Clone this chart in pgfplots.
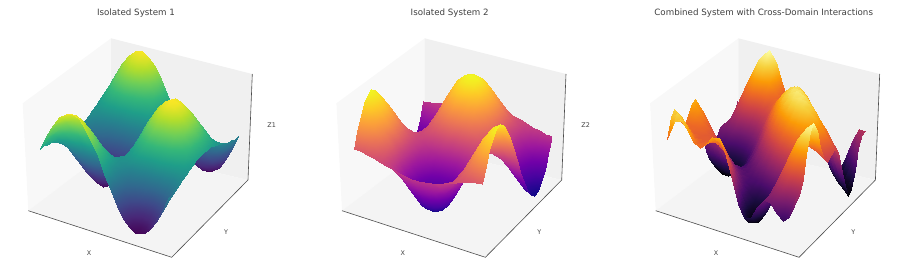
\documentclass[border=0pt]{standalone}
\usepackage{pgfplots}
\pgfplotsset{compat=1.18}
\usepackage{fontspec}
\setmainfont{DejaVu Sans}
\definecolor{paneL}{HTML}{F8F8F8}
\definecolor{paneB}{HTML}{F0F0F0}
\definecolor{paneF}{HTML}{F4F4F4}
\pgfplotsset{
 colormap={vir}{rgb255=(68,1,84) rgb255=(72,40,120) rgb255=(62,73,137) rgb255=(49,104,142) rgb255=(38,130,142) rgb255=(31,158,137) rgb255=(53,183,121) rgb255=(110,206,88) rgb255=(181,222,43) rgb255=(253,231,37)},
 colormap={pla}{rgb255=(13,8,135) rgb255=(70,3,159) rgb255=(114,1,168) rgb255=(156,23,158) rgb255=(189,55,134) rgb255=(216,87,107) rgb255=(237,121,83) rgb255=(251,159,58) rgb255=(253,202,38) rgb255=(240,249,33)},
 colormap={inf}{rgb255=(0,0,4) rgb255=(27,12,65) rgb255=(74,12,107) rgb255=(120,28,109) rgb255=(165,44,96) rgb255=(207,68,70) rgb255=(237,105,37) rgb255=(251,155,6) rgb255=(247,209,61) rgb255=(252,255,164)},
 panel/.style={hide axis,clip=false,anchor=origin,xmin=-33,xmax=33,ymin=-33,ymax=33,
   x={(2.14pt,-0.58pt)},y={(1.16pt,1.04pt)}}
}
\newcommand{\panebox}[1]{%
 \begin{scope}[shift={(#1,280)},yscale=-1]
  \fill[paneL] (28.3,210.7)--(22.7,103.3)--(111,38.3)--(111,148)--cycle;
  \fill[paneB] (111,148)--(111,38.3)--(252.3,74)--(248,180)--cycle;
  \fill[paneF] (28.3,210.7)--(111,148)--(248,180)--(171.7,257.3)--cycle;
  \draw[black!70,line width=0.6pt] (28.3,210.7)--(171.7,257.3)--(248,180)--(252.3,74);
 \end{scope}}
\begin{document}
\begin{tikzpicture}[x=1pt,y=1pt]
\useasboundingbox (0,0) rectangle (897,280);
\panebox{0}\panebox{313.7}\panebox{627.4}
\begin{axis}[panel,at={(139pt,137.5pt)},z={(0pt,0.518pt)},zmin=-110,zmax=110,colormap name=vir]
\addplot3[surf,shader=interp,z buffer=none,mesh/ordering=x varies,mesh/rows=21] table {
-30 30 14
-27 30 43
-24 30 67
-21 30 85
-18 30 96
-15 30 99
-12 30 92
-9 30 77
-6 30 55
-3 30 30
0 30 0
3 30 -30
6 30 -55
9 30 -77
12 30 -92
15 30 -99
18 30 -96
21 30 -85
24 30 -67
27 30 -43
30 30 -14
-30 27 13
-27 27 39
-24 27 61
-21 27 77
-18 27 87
-15 27 90
-12 27 84
-9 27 70
-6 27 50
-3 27 27
0 27 0
3 27 -27
6 27 -50
9 27 -70
12 27 -84
15 27 -90
18 27 -87
21 27 -77
24 27 -61
27 27 -39
30 27 -13
-30 24 10
-27 24 32
-24 24 50
-21 24 64
-18 24 72
-15 24 74
-12 24 69
-9 24 58
-6 24 41
-3 24 22
0 24 0
3 24 -22
6 24 -41
9 24 -58
12 24 -69
15 24 -74
18 24 -72
21 24 -64
24 24 -50
27 24 -32
30 24 -10
-30 21 7
-27 21 22
-24 21 34
-21 21 43
-18 21 49
-15 21 50
-12 21 47
-9 21 39
-6 21 28
-3 21 15
0 21 0
3 21 -15
6 21 -28
9 21 -39
12 21 -47
15 21 -50
18 21 -49
21 21 -43
24 21 -34
27 21 -22
30 21 -7
-30 18 3
-27 18 10
-24 18 16
-21 18 20
-18 18 22
-15 18 23
-12 18 21
-9 18 18
-6 18 13
-3 18 7
0 18 0
3 18 -7
6 18 -13
9 18 -18
12 18 -21
15 18 -23
18 18 -22
21 18 -20
24 18 -16
27 18 -10
30 18 -3
-30 15 -1
-27 15 -3
-24 15 -5
-21 15 -6
-18 15 -7
-15 15 -7
-12 15 -7
-9 15 -5
-6 15 -4
-3 15 -2
0 15 0
3 15 2
6 15 4
9 15 5
12 15 7
15 15 7
18 15 7
21 15 6
24 15 5
27 15 3
30 15 1
-30 12 -5
-27 12 -15
-24 12 -24
-21 12 -31
-18 12 -35
-15 12 -36
-12 12 -33
-9 12 -28
-6 12 -20
-3 12 -11
0 12 0
3 12 11
6 12 20
9 12 28
12 12 33
15 12 36
18 12 35
21 12 31
24 12 24
27 12 15
30 12 5
-30 9 -9
-27 9 -27
-24 9 -42
-21 9 -53
-18 9 -60
-15 9 -62
-12 9 -58
-9 9 -48
-6 9 -35
-3 9 -19
0 9 0
3 9 19
6 9 35
9 9 48
12 9 58
15 9 62
18 9 60
21 9 53
24 9 42
27 9 27
30 9 9
-30 6 -12
-27 6 -36
-24 6 -56
-21 6 -71
-18 6 -81
-15 6 -83
-12 6 -77
-9 6 -65
-6 6 -46
-3 6 -25
0 6 0
3 6 25
6 6 46
9 6 65
12 6 77
15 6 83
18 6 81
21 6 71
24 6 56
27 6 36
30 6 12
-30 3 -13
-27 3 -41
-24 3 -65
-21 3 -83
-18 3 -93
-15 3 -96
-12 3 -89
-9 3 -75
-6 3 -54
-3 3 -29
0 3 0
3 3 29
6 3 54
9 3 75
12 3 89
15 3 96
18 3 93
21 3 83
24 3 65
27 3 41
30 3 13
-30 0 -14
-27 0 -43
-24 0 -68
-21 0 -86
-18 0 -97
-15 0 -100
-12 0 -93
-9 0 -78
-6 0 -56
-3 0 -30
0 0 0
3 0 30
6 0 56
9 0 78
12 0 93
15 0 100
18 0 97
21 0 86
24 0 68
27 0 43
30 0 14
-30 -3 -13
-27 -3 -41
-24 -3 -65
-21 -3 -83
-18 -3 -93
-15 -3 -96
-12 -3 -89
-9 -3 -75
-6 -3 -54
-3 -3 -29
0 -3 0
3 -3 29
6 -3 54
9 -3 75
12 -3 89
15 -3 96
18 -3 93
21 -3 83
24 -3 65
27 -3 41
30 -3 13
-30 -6 -12
-27 -6 -36
-24 -6 -56
-21 -6 -71
-18 -6 -81
-15 -6 -83
-12 -6 -77
-9 -6 -65
-6 -6 -46
-3 -6 -25
0 -6 0
3 -6 25
6 -6 46
9 -6 65
12 -6 77
15 -6 83
18 -6 81
21 -6 71
24 -6 56
27 -6 36
30 -6 12
-30 -9 -9
-27 -9 -27
-24 -9 -42
-21 -9 -53
-18 -9 -60
-15 -9 -62
-12 -9 -58
-9 -9 -48
-6 -9 -35
-3 -9 -19
0 -9 0
3 -9 19
6 -9 35
9 -9 48
12 -9 58
15 -9 62
18 -9 60
21 -9 53
24 -9 42
27 -9 27
30 -9 9
-30 -12 -5
-27 -12 -15
-24 -12 -24
-21 -12 -31
-18 -12 -35
-15 -12 -36
-12 -12 -33
-9 -12 -28
-6 -12 -20
-3 -12 -11
0 -12 0
3 -12 11
6 -12 20
9 -12 28
12 -12 33
15 -12 36
18 -12 35
21 -12 31
24 -12 24
27 -12 15
30 -12 5
-30 -15 -1
-27 -15 -3
-24 -15 -5
-21 -15 -6
-18 -15 -7
-15 -15 -7
-12 -15 -7
-9 -15 -5
-6 -15 -4
-3 -15 -2
0 -15 0
3 -15 2
6 -15 4
9 -15 5
12 -15 7
15 -15 7
18 -15 7
21 -15 6
24 -15 5
27 -15 3
30 -15 1
-30 -18 3
-27 -18 10
-24 -18 16
-21 -18 20
-18 -18 22
-15 -18 23
-12 -18 21
-9 -18 18
-6 -18 13
-3 -18 7
0 -18 0
3 -18 -7
6 -18 -13
9 -18 -18
12 -18 -21
15 -18 -23
18 -18 -22
21 -18 -20
24 -18 -16
27 -18 -10
30 -18 -3
-30 -21 7
-27 -21 22
-24 -21 34
-21 -21 43
-18 -21 49
-15 -21 50
-12 -21 47
-9 -21 39
-6 -21 28
-3 -21 15
0 -21 0
3 -21 -15
6 -21 -28
9 -21 -39
12 -21 -47
15 -21 -50
18 -21 -49
21 -21 -43
24 -21 -34
27 -21 -22
30 -21 -7
-30 -24 10
-27 -24 32
-24 -24 50
-21 -24 64
-18 -24 72
-15 -24 74
-12 -24 69
-9 -24 58
-6 -24 41
-3 -24 22
0 -24 0
3 -24 -22
6 -24 -41
9 -24 -58
12 -24 -69
15 -24 -74
18 -24 -72
21 -24 -64
24 -24 -50
27 -24 -32
30 -24 -10
-30 -27 13
-27 -27 39
-24 -27 61
-21 -27 77
-18 -27 87
-15 -27 90
-12 -27 84
-9 -27 70
-6 -27 50
-3 -27 27
0 -27 0
3 -27 -27
6 -27 -50
9 -27 -70
12 -27 -84
15 -27 -90
18 -27 -87
21 -27 -77
24 -27 -61
27 -27 -39
30 -27 -13
-30 -30 14
-27 -30 43
-24 -30 67
-21 -30 85
-18 -30 96
-15 -30 99
-12 -30 92
-9 -30 77
-6 -30 55
-3 -30 30
0 -30 0
3 -30 -30
6 -30 -55
9 -30 -77
12 -30 -92
15 -30 -99
18 -30 -96
21 -30 -85
24 -30 -67
27 -30 -43
30 -30 -14
};
\end{axis}
\begin{axis}[panel,at={(452.7pt,137.5pt)},z={(0pt,0.518pt)},zmin=-110,zmax=110,colormap name=pla]
\addplot3[surf,shader=interp,z buffer=none,mesh/ordering=x varies,mesh/rows=21] table {
-30 30 -14
-27 30 -13
-24 30 -10
-21 30 -7
-18 30 -3
-15 30 1
-12 30 5
-9 30 9
-6 30 12
-3 30 13
0 30 14
3 30 13
6 30 12
9 30 9
12 30 5
15 30 1
18 30 -3
21 30 -7
24 30 -10
27 30 -13
30 30 -14
-30 27 -43
-27 27 -39
-24 27 -32
-21 27 -22
-18 27 -10
-15 27 3
-12 27 15
-9 27 27
-6 27 36
-3 27 41
0 27 43
3 27 41
6 27 36
9 27 27
12 27 15
15 27 3
18 27 -10
21 27 -22
24 27 -32
27 27 -39
30 27 -43
-30 24 -67
-27 24 -61
-24 24 -50
-21 24 -34
-18 24 -16
-15 24 5
-12 24 24
-9 24 42
-6 24 56
-3 24 65
0 24 68
3 24 65
6 24 56
9 24 42
12 24 24
15 24 5
18 24 -16
21 24 -34
24 24 -50
27 24 -61
30 24 -67
-30 21 -85
-27 21 -77
-24 21 -64
-21 21 -43
-18 21 -20
-15 21 6
-12 21 31
-9 21 53
-6 21 71
-3 21 83
0 21 86
3 21 83
6 21 71
9 21 53
12 21 31
15 21 6
18 21 -20
21 21 -43
24 21 -64
27 21 -77
30 21 -85
-30 18 -96
-27 18 -87
-24 18 -72
-21 18 -49
-18 18 -22
-15 18 7
-12 18 35
-9 18 60
-6 18 81
-3 18 93
0 18 97
3 18 93
6 18 81
9 18 60
12 18 35
15 18 7
18 18 -22
21 18 -49
24 18 -72
27 18 -87
30 18 -96
-30 15 -99
-27 15 -90
-24 15 -74
-21 15 -50
-18 15 -23
-15 15 7
-12 15 36
-9 15 62
-6 15 83
-3 15 96
0 15 100
3 15 96
6 15 83
9 15 62
12 15 36
15 15 7
18 15 -23
21 15 -50
24 15 -74
27 15 -90
30 15 -99
-30 12 -92
-27 12 -84
-24 12 -69
-21 12 -47
-18 12 -21
-15 12 7
-12 12 33
-9 12 58
-6 12 77
-3 12 89
0 12 93
3 12 89
6 12 77
9 12 58
12 12 33
15 12 7
18 12 -21
21 12 -47
24 12 -69
27 12 -84
30 12 -92
-30 9 -77
-27 9 -70
-24 9 -58
-21 9 -39
-18 9 -18
-15 9 5
-12 9 28
-9 9 48
-6 9 65
-3 9 75
0 9 78
3 9 75
6 9 65
9 9 48
12 9 28
15 9 5
18 9 -18
21 9 -39
24 9 -58
27 9 -70
30 9 -77
-30 6 -55
-27 6 -50
-24 6 -41
-21 6 -28
-18 6 -13
-15 6 4
-12 6 20
-9 6 35
-6 6 46
-3 6 54
0 6 56
3 6 54
6 6 46
9 6 35
12 6 20
15 6 4
18 6 -13
21 6 -28
24 6 -41
27 6 -50
30 6 -55
-30 3 -30
-27 3 -27
-24 3 -22
-21 3 -15
-18 3 -7
-15 3 2
-12 3 11
-9 3 19
-6 3 25
-3 3 29
0 3 30
3 3 29
6 3 25
9 3 19
12 3 11
15 3 2
18 3 -7
21 3 -15
24 3 -22
27 3 -27
30 3 -30
-30 0 0
-27 0 0
-24 0 0
-21 0 0
-18 0 0
-15 0 0
-12 0 0
-9 0 0
-6 0 0
-3 0 0
0 0 0
3 0 0
6 0 0
9 0 0
12 0 0
15 0 0
18 0 0
21 0 0
24 0 0
27 0 0
30 0 0
-30 -3 30
-27 -3 27
-24 -3 22
-21 -3 15
-18 -3 7
-15 -3 -2
-12 -3 -11
-9 -3 -19
-6 -3 -25
-3 -3 -29
0 -3 -30
3 -3 -29
6 -3 -25
9 -3 -19
12 -3 -11
15 -3 -2
18 -3 7
21 -3 15
24 -3 22
27 -3 27
30 -3 30
-30 -6 55
-27 -6 50
-24 -6 41
-21 -6 28
-18 -6 13
-15 -6 -4
-12 -6 -20
-9 -6 -35
-6 -6 -46
-3 -6 -54
0 -6 -56
3 -6 -54
6 -6 -46
9 -6 -35
12 -6 -20
15 -6 -4
18 -6 13
21 -6 28
24 -6 41
27 -6 50
30 -6 55
-30 -9 77
-27 -9 70
-24 -9 58
-21 -9 39
-18 -9 18
-15 -9 -5
-12 -9 -28
-9 -9 -48
-6 -9 -65
-3 -9 -75
0 -9 -78
3 -9 -75
6 -9 -65
9 -9 -48
12 -9 -28
15 -9 -5
18 -9 18
21 -9 39
24 -9 58
27 -9 70
30 -9 77
-30 -12 92
-27 -12 84
-24 -12 69
-21 -12 47
-18 -12 21
-15 -12 -7
-12 -12 -33
-9 -12 -58
-6 -12 -77
-3 -12 -89
0 -12 -93
3 -12 -89
6 -12 -77
9 -12 -58
12 -12 -33
15 -12 -7
18 -12 21
21 -12 47
24 -12 69
27 -12 84
30 -12 92
-30 -15 99
-27 -15 90
-24 -15 74
-21 -15 50
-18 -15 23
-15 -15 -7
-12 -15 -36
-9 -15 -62
-6 -15 -83
-3 -15 -96
0 -15 -100
3 -15 -96
6 -15 -83
9 -15 -62
12 -15 -36
15 -15 -7
18 -15 23
21 -15 50
24 -15 74
27 -15 90
30 -15 99
-30 -18 96
-27 -18 87
-24 -18 72
-21 -18 49
-18 -18 22
-15 -18 -7
-12 -18 -35
-9 -18 -60
-6 -18 -81
-3 -18 -93
0 -18 -97
3 -18 -93
6 -18 -81
9 -18 -60
12 -18 -35
15 -18 -7
18 -18 22
21 -18 49
24 -18 72
27 -18 87
30 -18 96
-30 -21 85
-27 -21 77
-24 -21 64
-21 -21 43
-18 -21 20
-15 -21 -6
-12 -21 -31
-9 -21 -53
-6 -21 -71
-3 -21 -83
0 -21 -86
3 -21 -83
6 -21 -71
9 -21 -53
12 -21 -31
15 -21 -6
18 -21 20
21 -21 43
24 -21 64
27 -21 77
30 -21 85
-30 -24 67
-27 -24 61
-24 -24 50
-21 -24 34
-18 -24 16
-15 -24 -5
-12 -24 -24
-9 -24 -42
-6 -24 -56
-3 -24 -65
0 -24 -68
3 -24 -65
6 -24 -56
9 -24 -42
12 -24 -24
15 -24 -5
18 -24 16
21 -24 34
24 -24 50
27 -24 61
30 -24 67
-30 -27 43
-27 -27 39
-24 -27 32
-21 -27 22
-18 -27 10
-15 -27 -3
-12 -27 -15
-9 -27 -27
-6 -27 -36
-3 -27 -41
0 -27 -43
3 -27 -41
6 -27 -36
9 -27 -27
12 -27 -15
15 -27 -3
18 -27 10
21 -27 22
24 -27 32
27 -27 39
30 -27 43
-30 -30 14
-27 -30 13
-24 -30 10
-21 -30 7
-18 -30 3
-15 -30 -1
-12 -30 -5
-9 -30 -9
-6 -30 -12
-3 -30 -13
0 -30 -14
3 -30 -13
6 -30 -12
9 -30 -9
12 -30 -5
15 -30 -1
18 -30 3
21 -30 7
24 -30 10
27 -30 13
30 -30 14
};
\end{axis}
\begin{axis}[panel,at={(766.4pt,137.5pt)},z={(0pt,0.35pt)},zmin=-165,zmax=165,colormap name=inf]
\addplot3[surf,shader=interp,z buffer=none,mesh/ordering=x varies,mesh/rows=21] table {
-30 30 -21
-27 30 -19
-24 30 17
-21 30 78
-18 30 132
-15 30 149
-12 30 120
-9 30 65
-6 30 19
-3 30 4
0 30 14
3 30 23
6 30 4
9 30 -47
12 30 -109
15 30 -147
18 30 -138
21 30 -92
24 30 -38
27 30 -7
30 30 -7
-30 27 -78
-27 27 -42
-24 27 20
-21 27 85
-18 27 128
-15 27 133
-12 27 105
-9 27 65
-6 27 36
-3 27 31
0 27 43
3 27 50
6 27 34
9 27 -12
12 27 -74
15 27 -127
18 27 -147
21 27 -128
24 27 -83
27 27 -35
30 27 -7
-30 24 -96
-27 24 -39
-24 24 25
-21 24 77
-18 24 103
-15 24 100
-12 24 80
-9 24 58
-6 24 48
-3 24 53
0 24 68
3 24 76
6 24 64
9 24 26
12 24 -31
15 24 -91
18 24 -133
21 24 -145
24 24 -125
27 24 -83
30 24 -38
-30 21 -79
-27 21 -28
-24 21 18
-21 21 48
-18 21 59
-15 21 57
-12 21 49
-9 21 46
-6 21 52
-3 21 68
0 21 86
3 21 97
6 21 90
9 21 62
12 21 13
15 21 -45
18 21 -99
21 21 -135
24 21 -145
27 21 -128
30 21 -92
-30 18 -55
-27 18 -29
-24 18 -10
-21 18 0
-18 18 5
-15 18 8
-12 18 15
-9 18 28
-6 18 49
-3 18 74
0 18 97
3 18 112
6 18 112
9 18 93
12 18 56
15 18 6
18 18 -49
21 18 -99
24 18 -133
27 18 -147
30 18 -138
-30 15 -51
-27 15 -54
-24 15 -56
-21 15 -56
-18 15 -51
-15 15 -39
-12 15 -19
-9 15 8
-6 15 39
-3 15 72
0 15 100
3 15 119
6 15 126
9 15 116
12 15 91
15 15 53
18 15 6
21 15 -45
24 15 -91
27 15 -127
30 15 -147
-30 12 -75
-27 12 -95
-24 12 -106
-21 12 -107
-18 12 -98
-15 12 -78
-12 12 -50
-9 12 -15
-6 12 24
-3 12 61
0 12 93
3 12 117
6 12 130
9 12 130
12 12 117
15 12 91
18 12 56
21 12 13
24 12 -31
27 12 -74
30 12 -109
-30 9 -108
-27 9 -130
-24 9 -141
-21 9 -141
-18 9 -128
-15 9 -105
-12 9 -74
-9 9 -36
-6 9 4
-3 9 43
0 9 78
3 9 107
6 9 125
9 9 134
12 9 130
15 9 116
18 9 93
21 9 62
24 9 26
27 9 -12
30 9 -47
-30 6 -116
-27 6 -136
-24 6 -147
-21 6 -147
-18 6 -137
-15 6 -118
-12 6 -90
-9 6 -55
-6 6 -18
-3 6 21
0 6 56
3 6 87
6 6 111
9 6 125
12 6 130
15 6 126
18 6 112
21 6 90
24 6 64
27 6 34
30 6 4
-30 3 -82
-27 3 -104
-24 3 -119
-21 3 -127
-18 3 -125
-15 3 -115
-12 3 -96
-9 3 -70
-6 3 -39
-3 3 -5
0 3 30
3 3 61
6 3 87
9 3 107
12 3 117
15 3 119
18 3 112
21 3 97
24 3 76
27 3 50
30 3 23
-30 0 -14
-27 0 -43
-24 0 -68
-21 0 -86
-18 0 -97
-15 0 -100
-12 0 -93
-9 0 -78
-6 0 -56
-3 0 -30
0 0 0
3 0 30
6 0 56
9 0 78
12 0 93
15 0 100
18 0 97
21 0 86
24 0 68
27 0 43
30 0 14
-30 -3 55
-27 -3 22
-24 -3 -10
-21 -3 -38
-18 -3 -61
-15 -3 -76
-12 -3 -82
-9 -3 -80
-6 -3 -69
-3 -3 -52
0 -3 -30
3 -3 -5
6 -3 21
9 -3 43
12 -3 61
15 -3 72
18 -3 74
21 -3 68
24 -3 53
27 -3 31
30 -3 4
-30 -6 93
-27 -6 66
-24 -6 36
-21 -6 5
-18 -6 -23
-15 -6 -47
-12 -6 -64
-9 -6 -74
-6 -6 -76
-3 -6 -69
0 -6 -56
3 -6 -39
6 -6 -18
9 -6 4
12 -6 24
15 -6 39
18 -6 49
21 -6 52
24 -6 48
27 -6 36
30 -6 19
-30 -9 90
-27 -9 77
-24 -9 57
-21 -9 33
-18 -9 7
-15 -9 -19
-12 -9 -42
-9 -9 -61
-6 -9 -74
-3 -9 -80
0 -9 -78
3 -9 -70
6 -9 -55
9 -9 -36
12 -9 -15
15 -9 8
18 -9 28
21 -9 46
24 -9 58
27 -9 65
30 -9 65
-30 -12 65
-27 -12 64
-24 -12 57
-21 -12 45
-18 -12 28
-15 -12 6
-12 -12 -18
-9 -12 -42
-6 -12 -64
-3 -12 -82
0 -12 -93
3 -12 -96
6 -12 -90
9 -12 -74
12 -12 -50
15 -12 -19
18 -12 15
21 -12 49
24 -12 80
27 -12 105
30 -12 120
-30 -15 49
-27 -15 48
-24 -15 47
-21 -15 44
-18 -15 37
-15 -15 25
-12 -15 6
-9 -15 -19
-6 -15 -47
-3 -15 -76
0 -15 -100
3 -15 -115
6 -15 -118
9 -15 -105
12 -15 -78
15 -15 -39
18 -15 8
21 -15 57
24 -15 100
27 -15 133
30 -15 149
-30 -18 61
-27 -18 48
-24 -18 41
-21 -18 39
-18 -18 39
-15 -18 37
-12 -18 28
-9 -18 7
-6 -18 -23
-3 -18 -61
0 -18 -97
3 -18 -125
6 -18 -137
9 -18 -128
12 -18 -98
15 -18 -51
18 -18 5
21 -18 59
24 -18 103
27 -18 128
30 -18 132
-30 -21 93
-27 -21 71
-24 -21 51
-21 -21 39
-18 -21 39
-15 -21 44
-12 -21 45
-9 -21 33
-6 -21 5
-3 -21 -38
0 -21 -86
3 -21 -127
6 -21 -147
9 -21 -141
12 -21 -107
15 -21 -56
18 -21 0
21 -21 48
24 -21 77
27 -21 85
30 -21 78
-30 -24 117
-27 -24 102
-24 -24 75
-21 -24 51
-18 -24 41
-15 -24 47
-12 -24 57
-9 -24 57
-6 -24 36
-3 -24 -10
0 -24 -68
3 -24 -119
6 -24 -147
9 -24 -141
12 -24 -106
15 -24 -56
18 -24 -10
21 -24 18
24 -24 25
27 -24 20
30 -24 17
-30 -27 104
-27 -27 119
-24 -27 102
-21 -27 71
-18 -27 48
-15 -27 48
-12 -27 64
-9 -27 77
-6 -27 66
-3 -27 22
0 -27 -43
3 -27 -104
6 -27 -136
9 -27 -130
12 -27 -95
15 -27 -54
18 -27 -29
21 -27 -28
24 -27 -39
27 -27 -42
30 -27 -19
-30 -30 49
-27 -30 104
-24 -30 117
-21 -30 93
-18 -30 61
-15 -30 49
-12 -30 65
-9 -30 90
-6 -30 93
-3 -30 55
0 -30 -14
3 -30 -82
6 -30 -116
9 -30 -108
12 -30 -75
15 -30 -51
18 -30 -55
21 -30 -79
24 -30 -96
27 -30 -78
30 -30 -21
};
\end{axis}
\begin{scope}[every node/.style={text=black!75,inner sep=0pt},font=\fontsize{8.7pt}{10pt}\selectfont]
\node at (136,267.3) {Isolated System 1};
\node at (449.7,267.3) {Isolated System 2};
\node at (763.7,267.3) {Combined System with Cross-Domain Interactions};
\end{scope}
\begin{scope}[every node/.style={text=black!75,inner sep=0pt},font=\fontsize{6.4pt}{8pt}\selectfont]
\node at (89,27.3) {X}; \node at (226,48.3) {Y}; \node at (271.7,155) {Z1};
\node at (402.7,27.3) {X}; \node at (539.3,48.3) {Y}; \node at (585.7,155) {Z2};
\node at (716,27.3) {X}; \node at (853.3,48.3) {Y};
\end{scope}
\end{tikzpicture}
\end{document}
